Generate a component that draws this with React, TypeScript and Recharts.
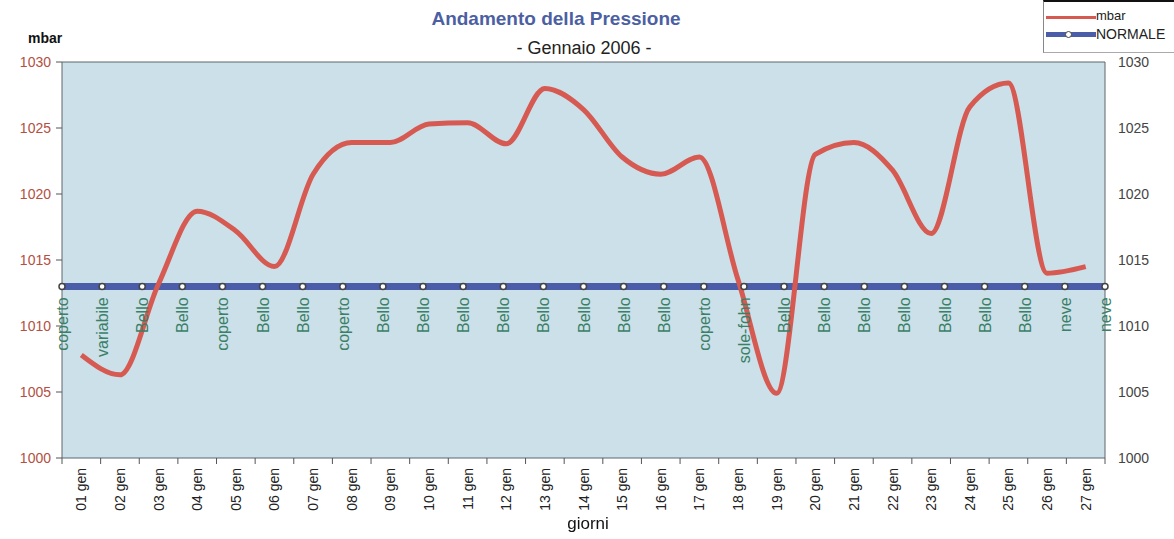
import React from 'react';
import { LineChart, Line, XAxis, YAxis, CartesianGrid, ReferenceLine, LabelList } from 'recharts';

const W = 1174;
const H = 539;
const FONT = '"Liberation Sans", Arial, sans-serif';
const BORDER = '#5f666c';

const DAYS = [
  '01 gen', '02 gen', '03 gen', '04 gen', '05 gen', '06 gen', '07 gen', '08 gen', '09 gen',
  '10 gen', '11 gen', '12 gen', '13 gen', '14 gen', '15 gen', '16 gen', '17 gen', '18 gen',
  '19 gen', '20 gen', '21 gen', '22 gen', '23 gen', '24 gen', '25 gen', '26 gen', '27 gen',
];

// pressione giornaliera (mbar)
const MBAR = [
  1007.8, 1006.3, 1013.2, 1018.7, 1017.2, 1014.5, 1021.5, 1023.9, 1023.9,
  1025.3, 1025.4, 1023.8, 1028.0, 1026.4, 1022.8, 1021.5, 1022.8, 1013.5,
  1004.9, 1023.0, 1023.9, 1021.8, 1017.0, 1026.6, 1028.4, 1014.0, 1014.5,
];

const NORMALE = 1013;

const METEO = [
  'coperto', 'variabile', 'Bello', 'Bello', 'coperto', 'Bello', 'Bello', 'coperto', 'Bello',
  'Bello', 'Bello', 'Bello', 'Bello', 'Bello', 'Bello', 'Bello', 'coperto', 'sole-fohn',
  'Bello', 'Bello', 'Bello', 'Bello', 'Bello', 'Bello', 'Bello', 'neve', 'neve',
];

const Y_TICKS = [1000, 1005, 1010, 1015, 1020, 1025, 1030];

const data = DAYS.map((day, i) => ({ day, mbar: MBAR[i], normale: NORMALE, meteo: METEO[i] }));

const LEFT_W = 62;
const RIGHT_W = 69;
const X_H = 81;
const PLOT_BOTTOM = H - X_H;
const BAND = (W - LEFT_W - RIGHT_W) / DAYS.length;
const HALF = BAND / 2;

const DayTick = (props: any) => {
  const { x, payload } = props;
  const idx = props.index ?? payload.index;
  return (
    <g>
      <line x1={x - HALF} x2={x - HALF} y1={PLOT_BOTTOM} y2={PLOT_BOTTOM + 6} stroke="#555" />
      {idx === DAYS.length - 1 && (
        <line x1={x + HALF} x2={x + HALF} y1={PLOT_BOTTOM} y2={PLOT_BOTTOM + 6} stroke="#555" />
      )}
      <text
        transform={`translate(${x + 5},${PLOT_BOTTOM + 10}) rotate(-90)`}
        textAnchor="end"
        fontSize={14}
        fontFamily={FONT}
        fill="#222"
      >
        {payload.value}
      </text>
    </g>
  );
};

const MeteoLabel = (props: any) => {
  const { x, y, value } = props;
  return (
    <text
      transform={`translate(${x + 6},${y + 11}) rotate(-90)`}
      textAnchor="end"
      fontSize={16}
      fontFamily={FONT}
      fill="#3a7f66"
    >
      {value}
    </text>
  );
};

const Legend = () => (
  <div
    style={{
      position: 'absolute',
      left: 1043,
      top: 0,
      width: 131,
      height: 50,
      borderTop: '2px solid #111',
      borderLeft: '1px solid #888',
      borderBottom: '1px solid #aaa',
      background: '#fff',
      fontSize: 13,
      color: '#222',
    }}
  >
    <div style={{ position: 'absolute', left: 2, top: 14, width: 50, height: 3, background: '#d65a52' }} />
    <div style={{ position: 'absolute', left: 52, top: 6 }}>mbar</div>
    <div style={{ position: 'absolute', left: 2, top: 30, width: 50, height: 5, background: '#4b5ca8' }} />
    <div
      style={{
        position: 'absolute',
        left: 21,
        top: 29,
        width: 5,
        height: 5,
        borderRadius: 4,
        background: '#fff',
        border: '1px solid #444',
      }}
    />
    <div style={{ position: 'absolute', left: 52, top: 24, fontSize: 14 }}>NORMALE</div>
  </div>
);

export default function App() {
  return (
    <div style={{ position: 'fixed', left: 0, top: 0, width: W, height: H, background: '#fff', fontFamily: FONT }}>
      <LineChart width={W} height={H} data={data} margin={{ top: 62, right: 0, bottom: 0, left: 0 }}>
        <CartesianGrid xAxisId="norm" yAxisId="left" horizontal={false} vertical={false} fill="#cbe0e8" />
        <XAxis
          xAxisId="days"
          dataKey="day"
          interval={0}
          padding={{ left: HALF, right: HALF }}
          height={X_H}
          tickLine={false}
          axisLine={{ stroke: BORDER }}
          tick={<DayTick />}
        />
        <XAxis xAxisId="norm" dataKey="day" hide />
        <YAxis
          yAxisId="left"
          domain={[1000, 1030]}
          ticks={Y_TICKS}
          width={LEFT_W}
          tick={{ fill: '#b3503f', fontSize: 14, fontFamily: FONT }}
          tickLine={{ stroke: '#555' }}
          axisLine={{ stroke: BORDER }}
          tickMargin={5}
          allowDataOverflow
        />
        <YAxis
          yAxisId="right"
          orientation="right"
          domain={[1000, 1030]}
          ticks={Y_TICKS}
          width={RIGHT_W}
          tick={{ fill: '#444', fontSize: 14, fontFamily: FONT }}
          tickLine={false}
          axisLine={{ stroke: BORDER }}
          tickMargin={7}
          allowDataOverflow
        />
        <ReferenceLine xAxisId="norm" yAxisId="left" y={1030} stroke={BORDER} />
        <Line
          xAxisId="norm"
          yAxisId="left"
          dataKey="normale"
          stroke="#4b5ca8"
          strokeWidth={7}
          dot={{ r: 3, fill: '#fff', stroke: '#444', strokeWidth: 1.5 }}
          isAnimationActive={false}
        >
          <LabelList dataKey="meteo" content={MeteoLabel} />
        </Line>
        <Line
          xAxisId="days"
          yAxisId="left"
          dataKey="mbar"
          type="monotone"
          stroke="#d65a52"
          strokeWidth={5}
          dot={false}
          isAnimationActive={false}
        />
      </LineChart>

      <div style={{ position: 'absolute', left: 0, width: 1112, top: 8, textAlign: 'center', fontSize: 19, fontWeight: 'bold', color: '#4d5fa3' }}>
        Andamento della Pressione
      </div>
      <div style={{ position: 'absolute', left: 0, width: 1168, top: 38, textAlign: 'center', fontSize: 18, color: '#222' }}>
        - Gennaio 2006 -
      </div>
      <div style={{ position: 'absolute', left: 28, top: 30, fontSize: 14, fontWeight: 'bold', color: '#111' }}>mbar</div>
      <div style={{ position: 'absolute', left: 0, width: 1176, top: 514, textAlign: 'center', fontSize: 17, color: '#111' }}>
        giorni
      </div>
      <Legend />
    </div>
  );
}
